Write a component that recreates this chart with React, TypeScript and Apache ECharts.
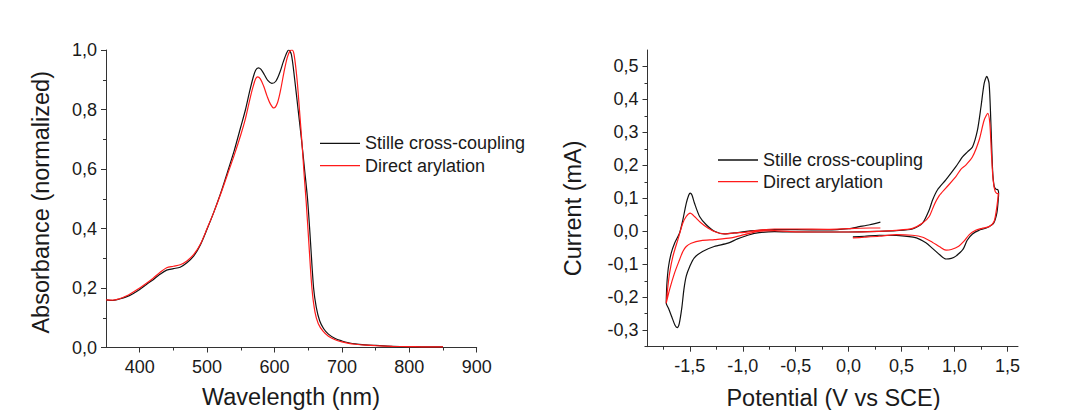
import React, { useEffect, useRef } from "react";
import * as echarts from "echarts";

// ---------- Data: UV-vis absorbance (normalized) ----------
const wavelengthStille = [350, 360, 370, 380, 390, 400, 410, 420, 430, 440, 450, 460, 470, 480, 490, 500, 510, 520, 530, 540, 550, 557, 563, 568, 572, 576, 580, 585, 590, 596, 602, 608, 613, 618, 621, 625, 630, 635, 640, 645, 649, 653, 658, 662, 667, 673, 680, 690, 700, 710, 720, 735, 750, 775, 800, 825, 850];
const absorbanceStille = [0.16, 0.158, 0.163, 0.17, 0.181, 0.195, 0.212, 0.228, 0.246, 0.26, 0.265, 0.27, 0.285, 0.307, 0.345, 0.398, 0.455, 0.518, 0.588, 0.66, 0.742, 0.8, 0.86, 0.905, 0.932, 0.94, 0.935, 0.917, 0.898, 0.888, 0.895, 0.925, 0.96, 0.99, 1.0, 0.985, 0.9, 0.8, 0.7, 0.59, 0.5, 0.37, 0.2, 0.135, 0.09, 0.063, 0.045, 0.03, 0.022, 0.016, 0.012, 0.009, 0.007, 0.004, 0.003, 0.002, 0.002];

const wavelengthDirect = [350, 360, 370, 380, 390, 400, 410, 420, 430, 440, 450, 460, 470, 480, 490, 500, 510, 520, 530, 540, 550, 557, 563, 568, 572, 575, 579, 584, 589, 594, 599, 604, 609, 614, 619, 623, 626, 629, 633.5, 637, 641, 644, 647, 651, 655.5, 660, 665, 672, 680, 690, 700, 710, 720, 735, 750, 775, 800, 825, 850];
const absorbanceDirect = [0.16, 0.159, 0.164, 0.173, 0.186, 0.2, 0.216, 0.233, 0.252, 0.268, 0.273, 0.278, 0.291, 0.312, 0.347, 0.4, 0.455, 0.515, 0.58, 0.645, 0.715, 0.77, 0.83, 0.875, 0.903, 0.91, 0.903, 0.878, 0.845, 0.818, 0.805, 0.82, 0.865, 0.925, 0.975, 0.997, 1.0, 0.985, 0.9, 0.8, 0.68, 0.58, 0.49, 0.35, 0.2, 0.12, 0.08, 0.055, 0.038, 0.026, 0.019, 0.014, 0.011, 0.008, 0.006, 0.004, 0.003, 0.002, 0.002];

// ---------- Data: cyclic voltammetry, [potential (V), current (mA)] in scan order ----------
const cvStille: [number, number][] = [
  [0.04, -0.017], [0.15, -0.015], [0.29, -0.012], [0.48, -0.013], [0.64, -0.02], [0.73, -0.035], [0.79, -0.051], [0.86, -0.071], [0.92, -0.084], [0.97, -0.082], [1.01, -0.076], [1.08, -0.055], [1.12, -0.027], [1.17, -0.008], [1.23, 0.003], [1.3, 0.01], [1.37, 0.025], [1.4, 0.055], [1.412, 0.09], [1.417, 0.115], [1.41, 0.126], [1.39, 0.128], [1.374, 0.138], [1.36, 0.186], [1.343, 0.337], [1.327, 0.448], [1.305, 0.47], [1.28, 0.448], [1.25, 0.377], [1.217, 0.307], [1.17, 0.256], [1.123, 0.241], [1.076, 0.226], [1.013, 0.196], [0.918, 0.156], [0.84, 0.126], [0.793, 0.095], [0.761, 0.065], [0.698, 0.025], [0.604, 0.007], [0.45, 0.002], [0.29, 0.0], [0.0, -0.002], [-0.3, -0.002], [-0.55, -0.002], [-0.7, -0.001], [-0.89, -0.006], [-0.98, -0.015], [-1.05, -0.023], [-1.14, -0.036], [-1.27, -0.046], [-1.38, -0.061], [-1.46, -0.081], [-1.5, -0.106], [-1.534, -0.136], [-1.556, -0.176], [-1.575, -0.23], [-1.6, -0.28], [-1.619, -0.292], [-1.64, -0.285], [-1.67, -0.26], [-1.7, -0.235], [-1.723, -0.218],
  [-1.72, -0.18], [-1.714, -0.146], [-1.701, -0.106], [-1.676, -0.066], [-1.644, -0.036], [-1.597, -0.005], [-1.566, 0.035], [-1.534, 0.085], [-1.51, 0.11], [-1.497, 0.116], [-1.48, 0.11], [-1.456, 0.085], [-1.408, 0.045], [-1.345, 0.02], [-1.267, 0.0], [-1.173, -0.008], [-1.078, -0.005], [-0.984, -0.001], [-0.89, 0.002], [-0.7, 0.005], [-0.5, 0.005], [-0.2, 0.004], [0.0, 0.008], [0.1, 0.014], [0.2, 0.02], [0.3, 0.028],
];
const cvDirect: [number, number][] = [
  [0.04, -0.02], [0.15, -0.018], [0.29, -0.015], [0.45, -0.01], [0.6, -0.012], [0.7, -0.018], [0.79, -0.033], [0.86, -0.047], [0.92, -0.057], [0.97, -0.055], [1.04, -0.045], [1.09, -0.03], [1.14, -0.01], [1.2, 0.003], [1.26, 0.009], [1.33, 0.015], [1.374, 0.03], [1.396, 0.065], [1.41, 0.1], [1.415, 0.116], [1.406, 0.114], [1.384, 0.121], [1.365, 0.156], [1.349, 0.236], [1.334, 0.327], [1.315, 0.358], [1.28, 0.337], [1.233, 0.277], [1.17, 0.226], [1.107, 0.201], [1.06, 0.188], [1.013, 0.166], [0.918, 0.131], [0.856, 0.108], [0.808, 0.08], [0.761, 0.045], [0.698, 0.025], [0.604, 0.009], [0.45, 0.003], [0.29, 0.0], [0.0, -0.002], [-0.3, -0.002], [-0.55, -0.001], [-0.7, 0.002], [-0.858, 0.0], [-0.984, -0.01], [-1.11, -0.02], [-1.267, -0.025], [-1.393, -0.028], [-1.487, -0.036], [-1.534, -0.046], [-1.566, -0.061], [-1.597, -0.086], [-1.644, -0.126], [-1.691, -0.176], [-1.723, -0.218],
  [-1.707, -0.166], [-1.691, -0.126], [-1.66, -0.076], [-1.613, -0.025], [-1.566, 0.025], [-1.534, 0.045], [-1.497, 0.055], [-1.456, 0.045], [-1.393, 0.025], [-1.33, 0.01], [-1.251, -0.003], [-1.173, -0.008], [-1.078, -0.005], [-0.984, -0.003], [-0.858, 0.003], [-0.7, 0.007], [-0.5, 0.007], [-0.2, 0.006], [0.0, 0.008], [0.2, 0.01], [0.3, 0.01],
];

// ---------- Tick values ----------
const uvXLabels = [400, 500, 600, 700, 800, 900];
const uvXMinor = [450, 550, 650, 750, 850];
const cvXLabels = [-1.5, -1.0, -0.5, 0.0, 0.5, 1.0, 1.5];
const cvXMinor = [-1.75, -1.25, -0.75, -0.25, 0.25, 0.75, 1.25];
const cvYLabels = [-0.3, -0.2, -0.1, 0.0, 0.1, 0.2, 0.3, 0.4, 0.5];
const cvYMinor = [-0.35, -0.25, -0.15, -0.05, 0.05, 0.15, 0.25, 0.35, 0.45];

const seriesNames = ["Stille cross-coupling", "Direct arylation"];
const seriesColors = ["#111111", "#ff1a1a"];

const FONT = '"Liberation Sans", Arial, sans-serif';
const AXIS_COLOR = "#333";
const TEXT_COLOR = "#1a1a1a";

const comma = (v: number) => v.toFixed(1).replace(".", ",").replace("-0,0", "0,0");

function mainAxis(gridIndex: number, position: string, min: number, max: number, labels: number[], fmt: (v: number) => string) {
  return {
    gridIndex,
    position,
    type: "value",
    min,
    max,
    axisLine: { show: true, onZero: false, lineStyle: { color: AXIS_COLOR, width: 1 } },
    axisTick: { show: true, customValues: labels, length: 5, lineStyle: { color: AXIS_COLOR, width: 1 } },
    axisLabel: { customValues: labels, formatter: fmt, fontSize: 18, fontFamily: FONT, color: TEXT_COLOR, margin: position === "left" ? 9 : 10 },
    splitLine: { show: false },
  };
}
function minorAxis(gridIndex: number, position: string, min: number, max: number, ticks: number[]) {
  return {
    gridIndex,
    position,
    type: "value",
    min,
    max,
    axisLine: { show: false, onZero: false },
    axisTick: { show: true, customValues: ticks, length: 3, lineStyle: { color: AXIS_COLOR, width: 1 } },
    axisLabel: { show: false },
    splitLine: { show: false },
  };
}

export default function App() {
  const ref = useRef<HTMLDivElement>(null);
  useEffect(() => {
    if (!ref.current) return;
    const chart = echarts.init(ref.current, undefined, { renderer: "svg" });
    const lineSeries = (name: string, color: string, data: any[], xi: number, yi: number, smooth: number) => ({
      type: "line",
      name,
      xAxisIndex: xi,
      yAxisIndex: yi,
      data,
      symbol: "none",
      showSymbol: false,
      smooth,
      lineStyle: { color, width: 1.2 },
      itemStyle: { color },
    });
    const legendBase = (left: number, top: number, gap: number) => ({
      left,
      top,
      orient: "vertical",
      icon: "rect",
      itemWidth: 40,
      itemHeight: 1.3,
      itemGap: gap,
      selectedMode: false,
      data: seriesNames,
      textStyle: { fontSize: 18, fontFamily: FONT, color: TEXT_COLOR, lineHeight: 20 },
    });
    const option: any = {
      animation: false,
      backgroundColor: "#ffffff",
      grid: [
        { left: 106, top: 50, width: 370.7, height: 297.5 },
        { left: 647.5, top: 50, width: 370.5, height: 296.7 },
      ],
      xAxis: [
        mainAxis(0, "bottom", 350, 900, uvXLabels, (v: number) => String(v)),
        minorAxis(0, "bottom", 350, 900, uvXMinor),
        mainAxis(1, "bottom", -1.9, 1.6, cvXLabels, comma),
        minorAxis(1, "bottom", -1.9, 1.6, cvXMinor),
      ],
      yAxis: [
        {
          gridIndex: 0,
          position: "left",
          type: "value",
          min: 0,
          max: 1,
          interval: 0.2,
          axisLine: { show: true, onZero: false, lineStyle: { color: AXIS_COLOR, width: 1 } },
          axisTick: { show: true, length: 5, lineStyle: { color: AXIS_COLOR, width: 1 } },
          minorTick: { show: true, splitNumber: 2, length: 3, lineStyle: { color: AXIS_COLOR, width: 1 } },
          axisLabel: { formatter: comma, fontSize: 18, fontFamily: FONT, color: TEXT_COLOR, margin: 9 },
          splitLine: { show: false },
          minorSplitLine: { show: false },
        },
        mainAxis(1, "left", -0.35, 0.55, cvYLabels, comma),
        minorAxis(1, "left", -0.35, 0.55, cvYMinor),
      ],
      legend: [legendBase(315, 128.3, 2.3), legendBase(713, 145, 1.7)],
      series: [
        lineSeries(seriesNames[0], seriesColors[0], wavelengthStille.map((w, i) => [w, absorbanceStille[i]]), 0, 0, 0.3),
        lineSeries(seriesNames[1], seriesColors[1], wavelengthDirect.map((w, i) => [w, absorbanceDirect[i]]), 0, 0, 0.3),
        lineSeries(seriesNames[0], seriesColors[0], cvStille, 2, 1, 0.25),
        lineSeries(seriesNames[1], seriesColors[1], cvDirect, 2, 1, 0.25),
      ],
      graphic: [
        {
          type: "text",
          x: 291,
          y: 397,
          style: { text: "Wavelength (nm)", font: `23.5px ${FONT}`, fill: TEXT_COLOR, align: "center", verticalAlign: "middle", textAlign: "center", textVerticalAlign: "middle" },
        },
        {
          type: "text",
          x: 41,
          y: 202.3,
          rotation: Math.PI / 2,
          style: { text: "Absorbance (normalized)", font: `23.5px ${FONT}`, fill: TEXT_COLOR, align: "center", verticalAlign: "middle", textAlign: "center", textVerticalAlign: "middle" },
        },
        {
          type: "text",
          x: 833.5,
          y: 397.5,
          style: { text: "Potential (V vs SCE)", font: `23.5px ${FONT}`, fill: TEXT_COLOR, align: "center", verticalAlign: "middle", textAlign: "center", textVerticalAlign: "middle" },
        },
        {
          type: "text",
          x: 573,
          y: 208.3,
          rotation: Math.PI / 2,
          style: { text: "Current (mA)", font: `23.5px ${FONT}`, fill: TEXT_COLOR, align: "center", verticalAlign: "middle", textAlign: "center", textVerticalAlign: "middle" },
        },
      ],
    };
    chart.setOption(option);
    return () => chart.dispose();
  }, []);
  return (
    <div
      ref={ref}
      style={{ position: "absolute", left: 0, top: 0, width: 1078, height: 410, background: "#fff" }}
    />
  );
}
